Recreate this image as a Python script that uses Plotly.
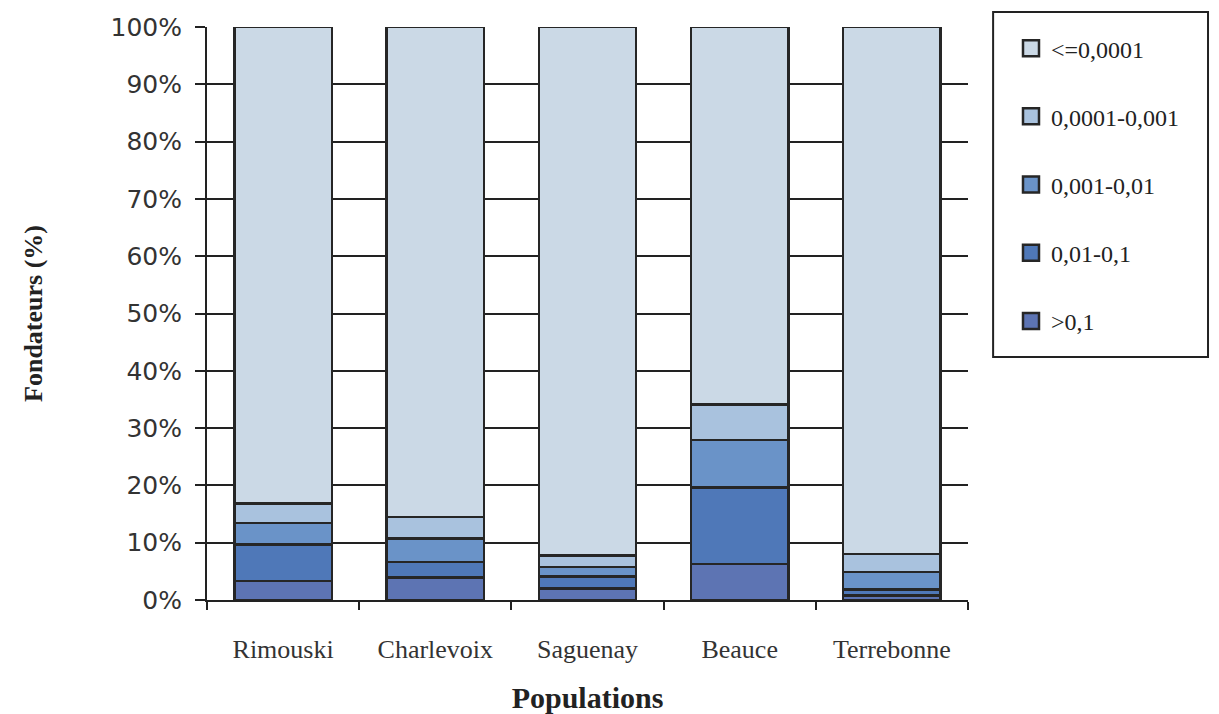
import plotly.graph_objects as go

populations = ["Rimouski", "Charlevoix", "Saguenay", "Beauce", "Terrebonne"]

# Stacked shares (%) per contribution class, bottom to top
gt_0_1 = [3.3, 3.9, 2.0, 6.3, 0.8]
c_001_01 = [6.4, 2.7, 2.1, 13.3, 1.0]
c_0001_001 = [3.7, 4.1, 1.7, 8.3, 3.1]
c_00001_0001 = [3.4, 3.8, 2.0, 6.2, 3.1]
le_00001 = [83.2, 85.5, 92.2, 65.9, 92.0]

series_names = [">0,1", "0,01-0,1", "0,001-0,01", "0,0001-0,001", "<=0,0001"]
series_values = [gt_0_1, c_001_01, c_0001_001, c_00001_0001, le_00001]
series_colors = ["#5d74b3", "#4f78b8", "#6a93c8", "#a9c2de", "#cbd9e6"]

y_ticks = list(range(0, 101, 10))
y_tick_text = [f"{t}%" for t in y_ticks]

fig = go.Figure()
for name, vals, col in zip(series_names, series_values, series_colors):
    fig.add_trace(go.Bar(
        x=populations, y=vals, name=name,
        marker=dict(color=col, line=dict(color="#262626", width=2.5)),
        showlegend=False,
    ))
# legend entries (larger square symbols), top class first
for i, (name, col) in enumerate(zip(series_names[::-1], series_colors[::-1])):
    fig.add_trace(go.Scatter(
        x=[None], y=[None], mode="markers", name=name,
        marker=dict(symbol="square", size=16, color=col,
                    line=dict(color="#262626", width=2.5)),
        legendgroup=f"g{i}", showlegend=True,
    ))

# legend frame
fig.add_shape(type="rect", xref="paper", yref="paper",
              x0=1.033, x1=1.3154, y0=0.424, y1=1.026,
              line=dict(color="#222", width=2), fillcolor="rgba(0,0,0,0)")

fig.update_layout(
    width=1203, height=706,
    barmode="stack", bargap=0.36,
    paper_bgcolor="white", plot_bgcolor="white",
    margin=dict(l=199, r=243, t=19, b=114, autoexpand=False),
    font=dict(family="Liberation Serif", color="#222"),
    showlegend=True,
    legend=dict(
        x=1.0565, y=1.0017, xanchor="left", yanchor="top",
        traceorder="grouped", tracegroupgap=34,
        font=dict(family="Liberation Serif", size=24, color="#222"),
        bgcolor="rgba(0,0,0,0)", borderwidth=0,
        itemsizing="trace",
    ),
    xaxis=dict(
        automargin=False,
        showline=True, linecolor="#222", linewidth=2,
        ticks="outside", ticklen=8, tickwidth=2, tickcolor="#222",
        tickson="boundaries", ticklabelstandoff=25,
        tickfont=dict(family="Liberation Serif", size=26, color="#333"),
        title=dict(text="<b>Populations</b>", standoff=25,
                   font=dict(family="Liberation Serif", size=30, color="#222")),
        showgrid=False,
    ),
    yaxis=dict(
        automargin=False,
        range=[0, 100], tickvals=y_ticks, ticktext=y_tick_text,
        showline=True, linecolor="#222", linewidth=2,
        ticks="outside", ticklen=10, tickwidth=2, tickcolor="#222",
        ticklabelstandoff=8,
        tickfont=dict(family="DejaVu Sans", size=25, color="#333"),
        showgrid=True, gridcolor="#222", gridwidth=2,
        zeroline=False,
        title=dict(text="<b>Fondateurs (%)</b>", standoff=60,
                   font=dict(family="Liberation Serif", size=26, color="#222")),
    ),
)

fig.write_html("out.html")
